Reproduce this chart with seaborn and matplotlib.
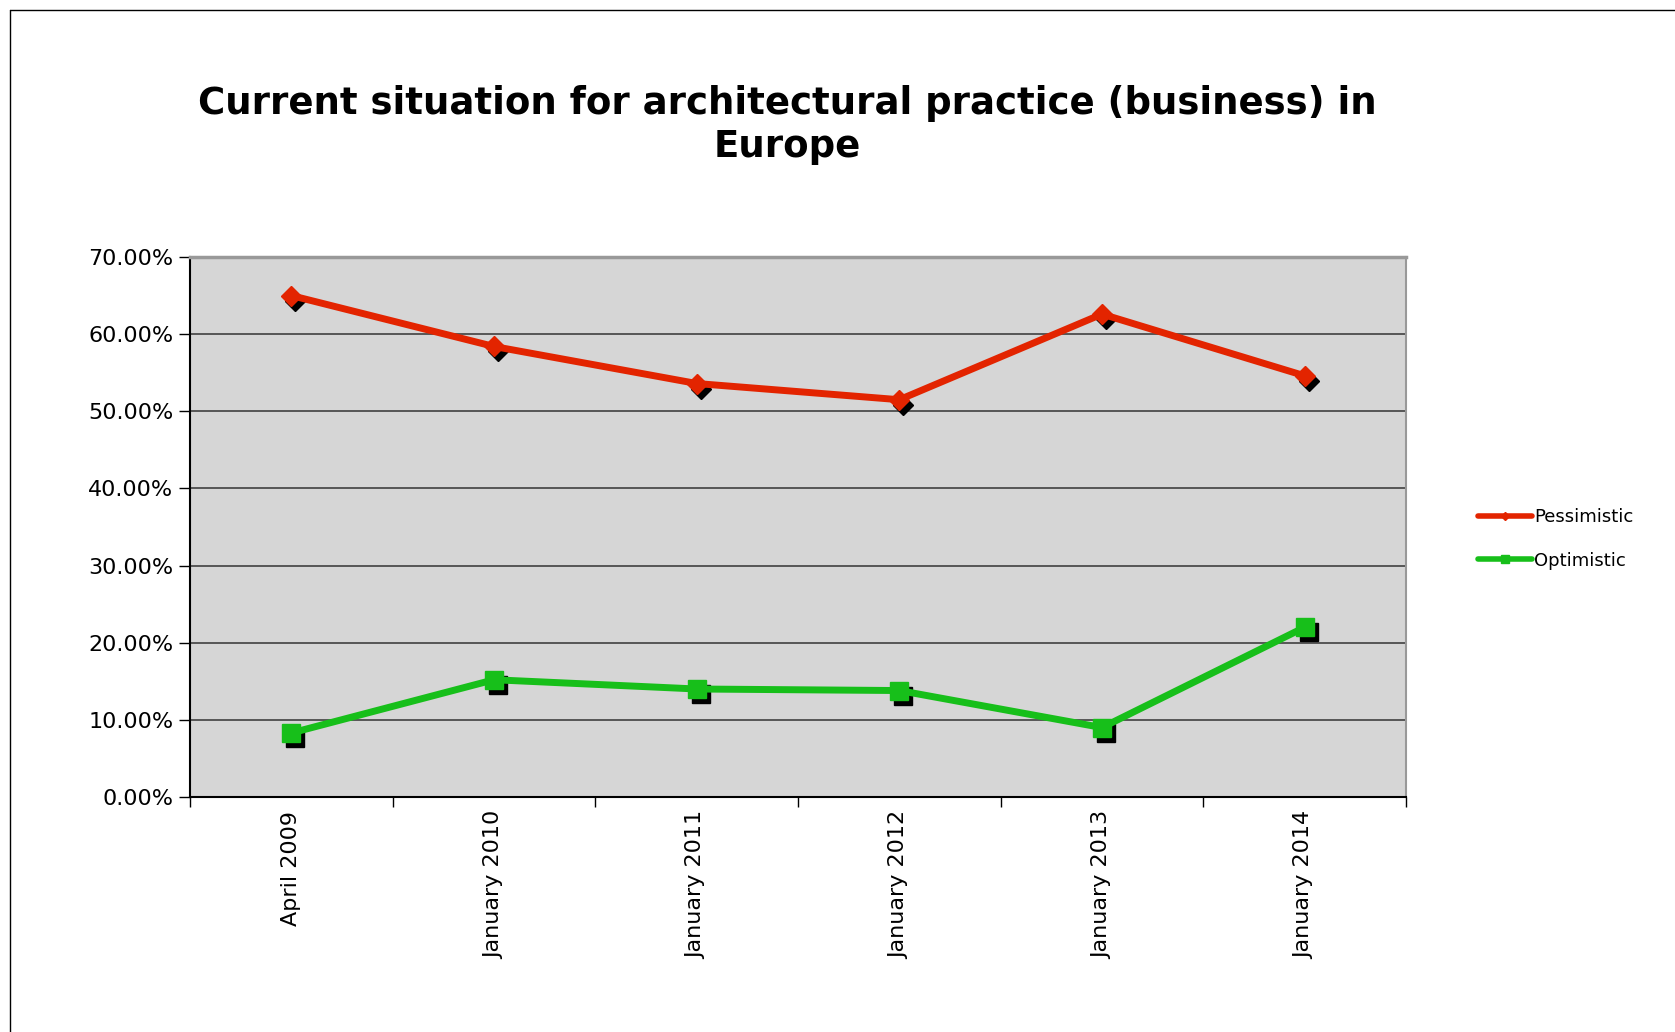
import numpy as np
import pandas as pd
import matplotlib
matplotlib.use("Agg")
import matplotlib.pyplot as plt
import matplotlib.transforms as mtransforms
from matplotlib.lines import Line2D
from matplotlib.ticker import FuncFormatter, FixedLocator
import seaborn as sns

periods = ["April 2009", "January 2010", "January 2011", "January 2012", "January 2013", "January 2014"]
pessimistic = [65.0, 58.4, 53.6, 51.5, 62.6, 54.6]
optimistic = [8.3, 15.2, 14.0, 13.8, 9.0, 22.0]
series_names = ["Pessimistic", "Optimistic"]
colors = {"Pessimistic": "#e32400", "Optimistic": "#17bf1a"}
yticks = [0, 10, 20, 30, 40, 50, 60, 70]

sns.set_theme(style="white")
plt.rcParams["font.family"] = ["DejaVu Sans"]
plt.rcParams["text.color"] = "black"

W, H = 1675, 1032
fig = plt.figure(figsize=(W / 100, H / 100), dpi=100)
fig.patch.set_facecolor("white")
ax = fig.add_axes([190 / W, 1 - 797 / H, (1406 - 190) / W, (797 - 257) / H])
ax.set_facecolor("#d6d6d6")

pos = np.arange(len(periods))
df = pd.DataFrame({
    "pos": np.concatenate([pos, pos]),
    "value": pessimistic + optimistic,
    "series": ["Pessimistic"] * len(periods) + ["Optimistic"] * len(periods),
})

# grid lines behind everything
for t in yticks[1:-1]:
    ax.axhline(t, color="#333333", lw=1.1, zorder=1)

# black drop shadows under the markers
shadow = mtransforms.offset_copy(ax.transData, fig=fig, x=4, y=-5, units="dots")
ax.plot(pos, pessimistic, ls="none", marker="D", ms=10, color="black", transform=shadow, zorder=2)
ax.plot(pos, optimistic, ls="none", marker="s", ms=13, color="black", transform=shadow, zorder=2)

sns.lineplot(data=df, x="pos", y="value", hue="series", hue_order=series_names,
             palette=colors, lw=5, legend=False, ax=ax, zorder=3)

ax.plot(pos, pessimistic, ls="none", marker="D", ms=10, color=colors["Pessimistic"], mec=colors["Pessimistic"], zorder=4)
ax.plot(pos, optimistic, ls="none", marker="s", ms=13, color=colors["Optimistic"], mec=colors["Optimistic"], zorder=4)

ax.set_xlim(-0.5, len(periods) - 0.5)
ax.set_ylim(0, 70)
ax.set_yticks(yticks)
ax.yaxis.set_major_formatter(FuncFormatter(lambda v, p: f"{v:.2f}%"))
ax.set_xticks(pos)
ax.set_xticklabels(periods, rotation=90)
ax.xaxis.set_minor_locator(FixedLocator(np.arange(-0.5, len(periods), 1.0)))
ax.tick_params(axis="x", which="major", length=0, pad=10, labelsize=16, labelcolor="black")
ax.tick_params(axis="x", which="minor", bottom=True, length=7, width=1, direction="out", color="black")
ax.tick_params(axis="y", which="major", left=True, length=8, width=1, direction="out", color="black",
               labelsize=16, labelcolor="black", pad=4)
ax.set_xlabel("")
ax.set_ylabel("")

for side in ["left", "bottom"]:
    ax.spines[side].set_color("black")
    ax.spines[side].set_linewidth(1.5)
ax.spines["top"].set_color("#999999")
ax.spines["top"].set_linewidth(2.5)
ax.spines["right"].set_color("#999999")
ax.spines["right"].set_linewidth(1.5)

handles = [
    Line2D([], [], color=colors["Pessimistic"], lw=4, marker="D", ms=4),
    Line2D([], [], color=colors["Optimistic"], lw=4, marker="s", ms=6),
]
fig.legend(handles, series_names, loc="center left", bbox_to_anchor=(1462 / W, 1 - 539 / H),
           frameon=False, fontsize=13, handlelength=3, handletextpad=0.1, labelspacing=1.4,
           labelcolor="black")

fig.text(787 / W, 1 - 125 / H, "Current situation for architectural practice (business) in\nEurope",
         ha="center", va="center", fontsize=26.7, fontweight="bold", linespacing=1.2, color="black")

# frame around the chart
fig.add_artist(Line2D([10 / W, 10 / W], [0, 1 - 10 / H], color="black", lw=1, transform=fig.transFigure))
fig.add_artist(Line2D([10 / W, 1], [1 - 10 / H, 1 - 10 / H], color="black", lw=1, transform=fig.transFigure))

fig.savefig("out.png", dpi=100)
